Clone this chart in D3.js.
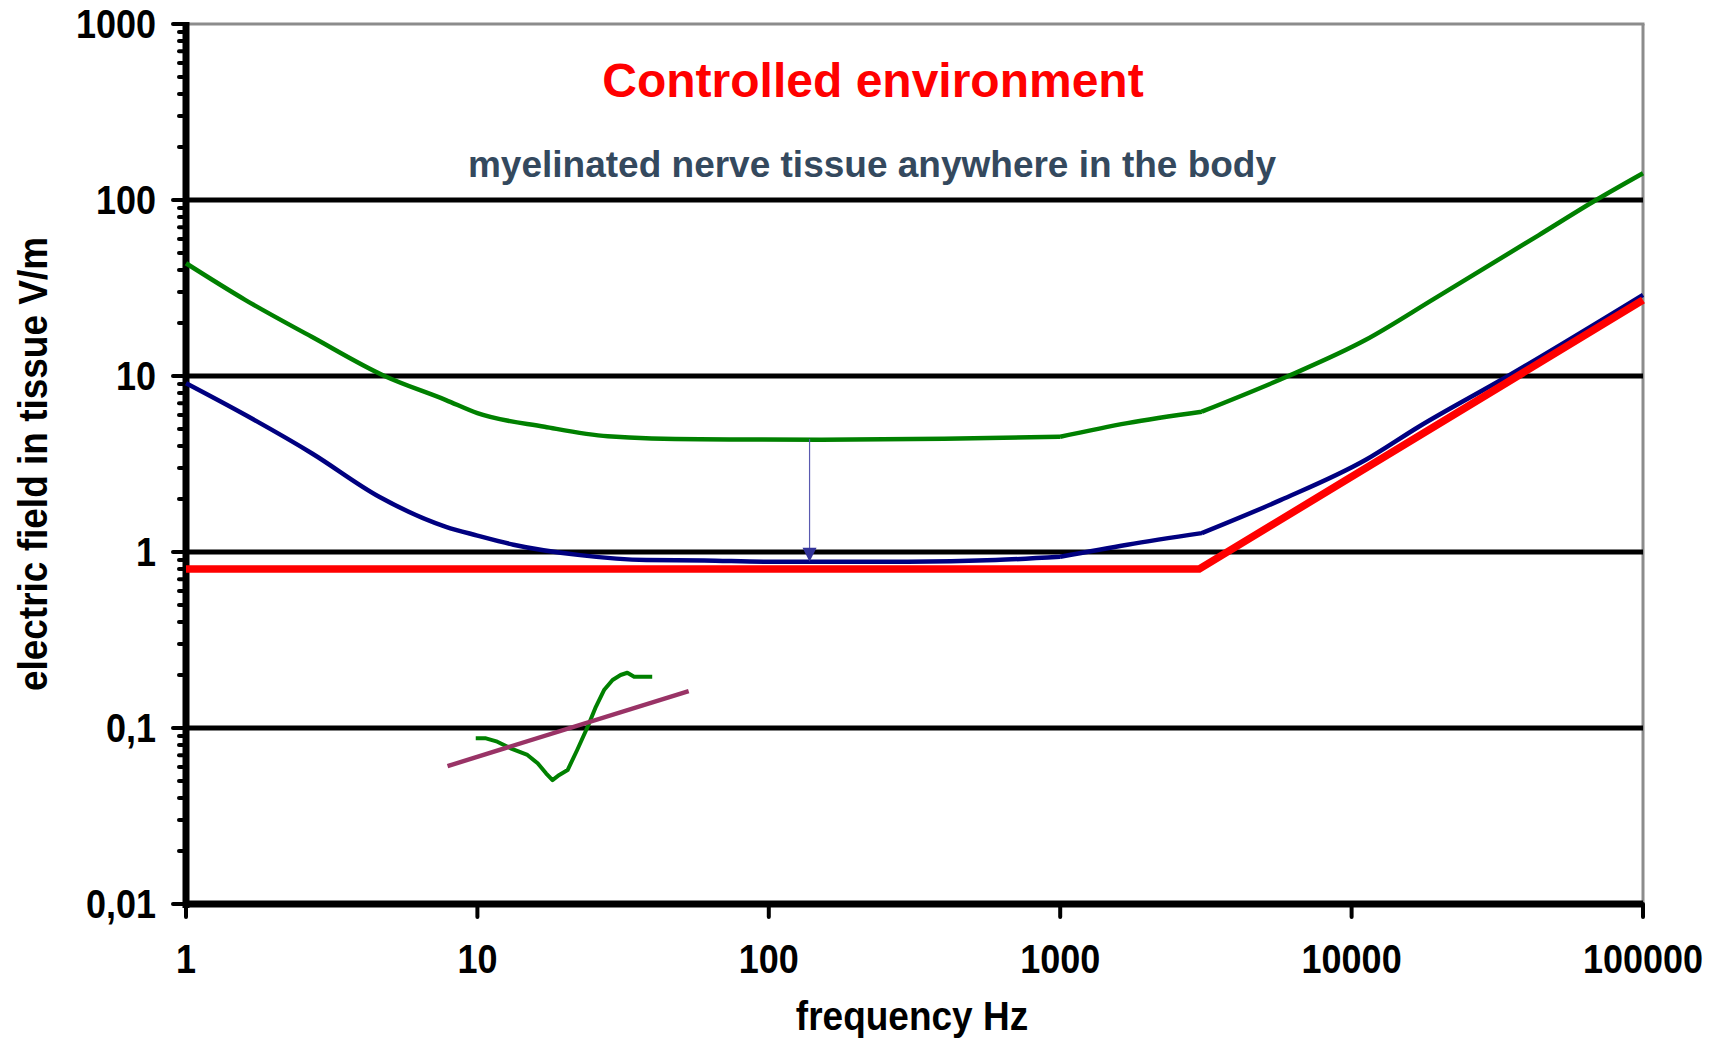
<!DOCTYPE html>
<html>
<head>
<meta charset="utf-8">
<script src="https://cdn.jsdelivr.net/npm/d3@7"></script>
<style>
  html, body { margin: 0; padding: 0; background: #fff; }
  svg { display: block; }
  text { font-family: "Liberation Sans", Arial, sans-serif; font-weight: bold; }
</style>
</head>
<body>
<svg id="chart" width="1718" height="1043"></svg>
<script>
// ---------- data ----------
const titleText = "Controlled environment";
const subtitleText = "myelinated nerve tissue anywhere in the body";
const xAxisTitle = "frequency Hz";
const yAxisTitle = "electric field in tissue V/m";

const xTickValues = [1, 10, 100, 1000, 10000, 100000];
const xTickLabels = ["1", "10", "100", "1000", "10000", "100000"];
const yTickValues = [0.01, 0.1, 1, 10, 100, 1000];
const yTickLabels = ["0,01", "0,1", "1", "10", "100", "1000"];

// [frequency Hz, field V/m]
const greenUpper = [
  [1, 43.7], [1.6, 27], [2.7, 16.7], [4.8, 10], [7.8, 7.3], [10, 6.15],
  [17, 5.15], [28, 4.55], [58, 4.37], [150, 4.35], [400, 4.4], [1000, 4.52],
  [1700, 5.4], [3060, 6.27], [6070, 10], [11150, 16],
  [19300, 27.6], [43800, 63], [69000, 100], [100000, 142]
];
const blueLower = [
  [1, 9.1], [1.6, 6.0], [2.7, 3.64], [4.6, 2.06], [7.8, 1.39], [10, 1.24],
  [13.3, 1.1], [22.5, 0.96], [38, 0.90], [60, 0.895], [100, 0.88], [300, 0.88],
  [600, 0.90], [1000, 0.94], [1700, 1.1], [3060, 1.28], [5700, 1.97],
  [11150, 3.33], [17000, 5.15], [34400, 10], [100000, 28.9]
];
const curveBreaks = [1000, 3060];
const redLimit = [[1, 0.8], [3000, 0.8], [100000, 27]];

const greenInset = [
  [9.87, 0.0874], [10.7, 0.0874], [11.7, 0.0836], [13.0, 0.0767], [14.85, 0.0703],
  [16.1, 0.063], [17.2, 0.0553], [18.1, 0.0506], [19.1, 0.0541], [20.4, 0.0577],
  [22.0, 0.075], [23.9, 0.1017], [25.5, 0.132], [27.2, 0.1644], [29.1, 0.1875],
  [31.0, 0.200], [32.7, 0.206], [34.5, 0.1956], [39.8, 0.1956]
];
const purpleInset = [[7.9, 0.0608], [53.1, 0.162]];
const arrowLine = [[138, 4.38], [138, 0.88]];

// ---------- layout ----------
const svg = d3.select("#chart");
const x = d3.scaleLog().domain([1, 100000]).range([186, 1643]);
const y = d3.scaleLog().domain([0.01, 1000]).range([904, 24]);
const line = d3.line().x(d => x(d[0])).y(d => y(d[1]));
const smooth = d3.line().x(d => x(d[0])).y(d => y(d[1])).curve(d3.curveMonotoneX);

// split a series at break frequencies so kinks stay sharp
function pieces(data) {
  const out = [];
  let cur = [];
  data.forEach(p => {
    cur.push(p);
    if (curveBreaks.includes(p[0])) { out.push(cur); cur = [p]; }
  });
  if (cur.length > 1) out.push(cur);
  return out.map(seg => smooth(seg)).join(" ");
}

// borders (top & right, gray)
svg.append("line").attr("x1", x(1)).attr("x2", x(100000) + 1.5)
  .attr("y1", y(1000)).attr("y2", y(1000))
  .attr("stroke", "#8c8c8c").attr("stroke-width", 3);
svg.append("line").attr("x1", x(100000)).attr("x2", x(100000))
  .attr("y1", y(1000)).attr("y2", y(0.01))
  .attr("stroke", "#8c8c8c").attr("stroke-width", 3);

// gridlines
svg.append("g").selectAll("line")
  .data(yTickValues.filter(v => v > 0.01 && v < 1000))
  .join("line")
  .attr("x1", x(1)).attr("x2", x(100000))
  .attr("y1", d => y(d)).attr("y2", d => y(d))
  .attr("stroke", "#000").attr("stroke-width", 5);

// y minor + major ticks
svg.append("g").selectAll("line")
  .data(y.ticks())
  .join("line")
  .attr("x1", d => yTickValues.includes(d) ? x(1) - 13 : x(1) - 7)
  .attr("x2", x(1))
  .attr("y1", d => y(d)).attr("y2", d => y(d))
  .attr("stroke", "#000").attr("stroke-width", 4).attr("stroke-linecap", "round");

// x major ticks
svg.append("g").selectAll("line")
  .data(xTickValues)
  .join("line")
  .attr("x1", d => x(d)).attr("x2", d => x(d))
  .attr("y1", y(0.01)).attr("y2", y(0.01) + 13)
  .attr("stroke", "#000").attr("stroke-width", 4).attr("stroke-linecap", "round");

// axes lines
svg.append("line").attr("x1", x(1)).attr("x2", x(1))
  .attr("y1", y(1000) - 2).attr("y2", y(0.01) + 4)
  .attr("stroke", "#000").attr("stroke-width", 7);
svg.append("line").attr("x1", x(1)).attr("x2", x(100000))
  .attr("y1", y(0.01)).attr("y2", y(0.01))
  .attr("stroke", "#000").attr("stroke-width", 7);

// tick labels
svg.append("g").selectAll("text")
  .data(yTickValues)
  .join("text")
  .attr("transform", d => `translate(156,${y(d) + 14}) scale(1,1.12)`)
  .attr("text-anchor", "end").attr("font-size", 36).attr("fill", "#000")
  .text((d, i) => yTickLabels[i]);
svg.append("g").selectAll("text")
  .data(xTickValues)
  .join("text")
  .attr("transform", d => `translate(${x(d)},973) scale(1,1.12)`)
  .attr("text-anchor", "middle").attr("font-size", 36).attr("fill", "#000")
  .text((d, i) => xTickLabels[i]);

// axis titles
svg.append("text").attr("transform", "translate(912,1030) scale(1,1.08)")
  .attr("text-anchor", "middle").attr("font-size", 37).attr("fill", "#000")
  .text(xAxisTitle);
svg.append("text").attr("transform", "translate(47,464) rotate(-90) scale(1,1.1)")
  .attr("text-anchor", "middle").attr("font-size", 37).attr("fill", "#000")
  .text(yAxisTitle);

// titles
svg.append("text").attr("x", 873).attr("y", 97)
  .attr("text-anchor", "middle").attr("font-size", 48).attr("fill", "#ff0000")
  .text(titleText);
svg.append("text").attr("x", 872).attr("y", 177)
  .attr("text-anchor", "middle").attr("font-size", 37).attr("fill", "#34495e")
  .text(subtitleText);

// curves
svg.append("path").attr("d", pieces(greenUpper))
  .attr("fill", "none").attr("stroke", "#008000").attr("stroke-width", 4.5);
svg.append("path").attr("d", pieces(blueLower))
  .attr("fill", "none").attr("stroke", "#000080").attr("stroke-width", 4.5);
svg.append("path").datum(redLimit).attr("d", line)
  .attr("fill", "none").attr("stroke", "#ff0000").attr("stroke-width", 7.5);

// arrow
const ax = x(arrowLine[0][0]);
const ay0 = y(arrowLine[0][1]);
const ay1 = y(arrowLine[1][1]);
svg.append("line").attr("x1", ax).attr("x2", ax).attr("y1", ay0).attr("y2", ay1 - 12)
  .attr("stroke", "#5a5ab0").attr("stroke-width", 1.2);
svg.append("path")
  .attr("d", `M${ax - 7},${ay1 - 14} L${ax + 7},${ay1 - 14} L${ax},${ay1} Z`)
  .attr("fill", "#333399");

// inset
svg.append("path").datum(greenInset).attr("d", line)
  .attr("fill", "none").attr("stroke", "#008000").attr("stroke-width", 4)
  .attr("stroke-linejoin", "round");
svg.append("path").datum(purpleInset).attr("d", line)
  .attr("fill", "none").attr("stroke", "#993366").attr("stroke-width", 4.5);
</script>
</body>
</html>
